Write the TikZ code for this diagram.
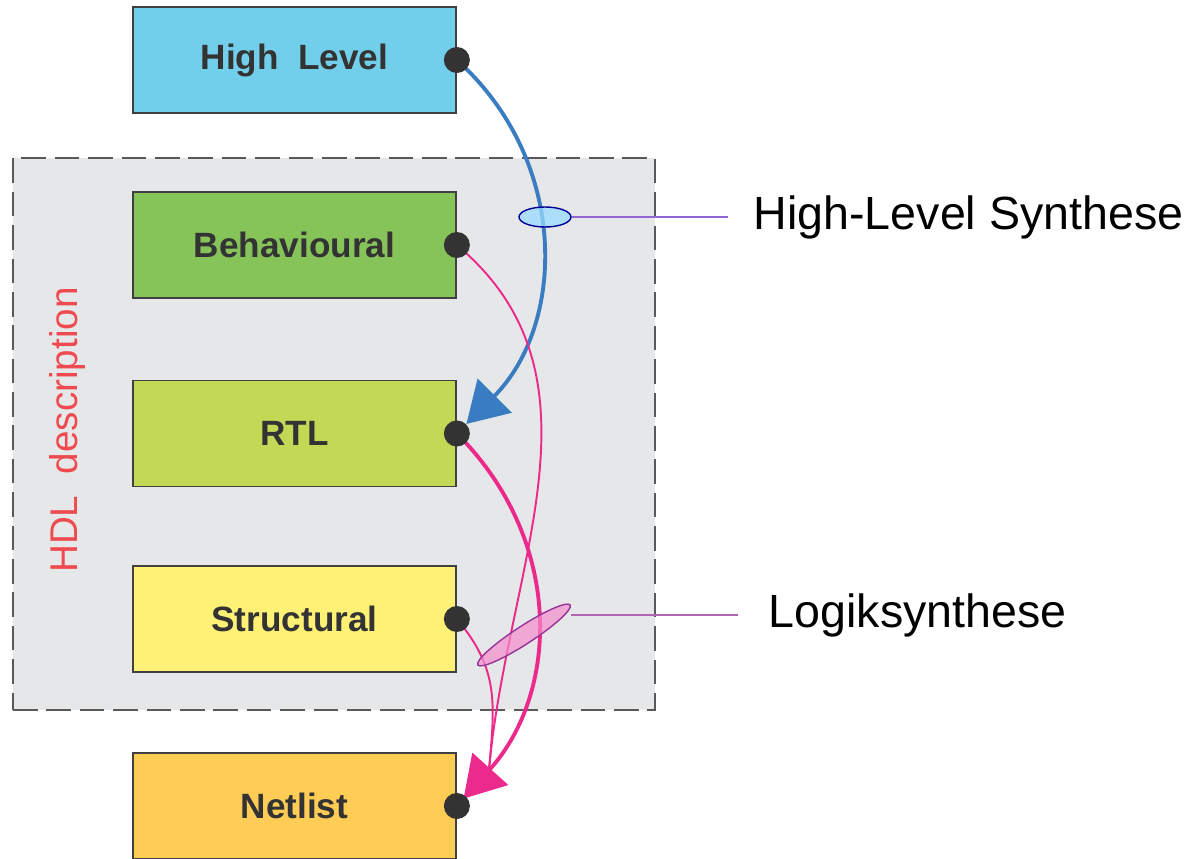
\documentclass[tikz,border=0pt]{standalone}
\usepackage{fontspec}
\setmainfont{Liberation Sans}
\usetikzlibrary{arrows.meta,shapes.geometric}

\definecolor{hlblue}{HTML}{72CFEC}
\definecolor{behgreen}{HTML}{86C45A}
\definecolor{rtlgreen}{HTML}{C3D955}
\definecolor{stryellow}{HTML}{FFF176}
\definecolor{netorange}{HTML}{FFCC55}
\definecolor{boxgray}{HTML}{E6E7E9}
\definecolor{curveblue}{HTML}{3A7CC2}
\definecolor{curvepink}{HTML}{EC2A8C}
\definecolor{dotgray}{HTML}{333333}
\definecolor{hdlred}{HTML}{EE4A50}

\begin{document}
\begin{tikzpicture}[
    level/.style={draw=black!75, line width=1pt, minimum width=6.46cm, minimum height=2.12cm, font=\fontsize{20}{24}\selectfont\bfseries, text=dotgray},
    dot/.style={fill=dotgray},
    synarr/.style={-{Triangle[length=0.8cm, width=0.95cm]}, line width=2.2pt},
    thinpink/.style={curvepink, line width=1.1pt},
    pointer/.style={line width=1pt},
    label/.style={font=\fontsize{26.5}{30}\selectfont, anchor=west}
]
\useasboundingbox (0,0) rectangle (23.9,-17.18);

% HDL block
\node[draw=black!65, dashed, dash pattern=on 14pt off 5pt, line width=1pt, fill=boxgray, minimum width=12.84cm, minimum height=11.04cm] (hdlbox) at (6.68,-8.68) {};
\node[rotate=90, text=hdlred, font=\fontsize{22}{26}\selectfont] (hdl) at (1.36,-8.6) {HDL\ \ description};

% abstraction levels
\node[level, fill=hlblue] (hl) at (5.89,-1.2) {High\ \ Level};
\node[level, fill=behgreen] (beh) at (5.89,-4.9) {Behavioural};
\node[level, fill=rtlgreen] (rtl) at (5.89,-8.67) {RTL};
\node[level, fill=stryellow] (str) at (5.89,-12.38) {Structural};
\node[level, fill=netorange] (net) at (5.89,-16.12) {Netlist};
\coordinate (netin) at (9.78,-15.4);

% synthesis steps
\draw[synarr, curveblue, shorten >=0.27cm] (hl.east) to[out=-42, in=45, looseness=1.05] (rtl.east);
\draw[thinpink] (beh.east) to[out=-40, in=85, looseness=1.0] (netin);
\draw[thinpink] (str.east) to[out=-50, in=85, looseness=1.1] (netin);
\draw[synarr, curvepink, shorten >=0.2cm] (rtl.east) to[out=-45, in=48, looseness=1.05] (net.east);

% labels
\node[label] (hls) at (14.95,-4.34) {High-Level Synthese};
\node[label] (logik) at (15.25,-12.3) {Logiksynthese};
\node[ellipse, draw=blue!60!black, fill=blue!35!cyan!40, fill opacity=0.75, line width=0.8pt, minimum width=1.04cm, minimum height=0.4cm, inner sep=0pt] (synhl) at (10.9,-4.34) {};
\node[ellipse, rotate=33, draw=violet!80, fill=magenta!45, fill opacity=0.7, line width=0.8pt, minimum width=2.2cm, minimum height=0.36cm, inner sep=0pt] (synlog) at (10.48,-12.7) {};
\draw[pointer, blue!45!violet!60, shorten >=0.4cm] (synhl.east) -- (hls.west);
\draw[pointer, violet!60, shorten >=0.5cm] (logik.west -| synlog.east) -- (logik.west);

\foreach \n in {hl,beh,rtl,str,net}
    \fill[dot] (\n.east) circle (0.26);
\end{tikzpicture}
\end{document}
